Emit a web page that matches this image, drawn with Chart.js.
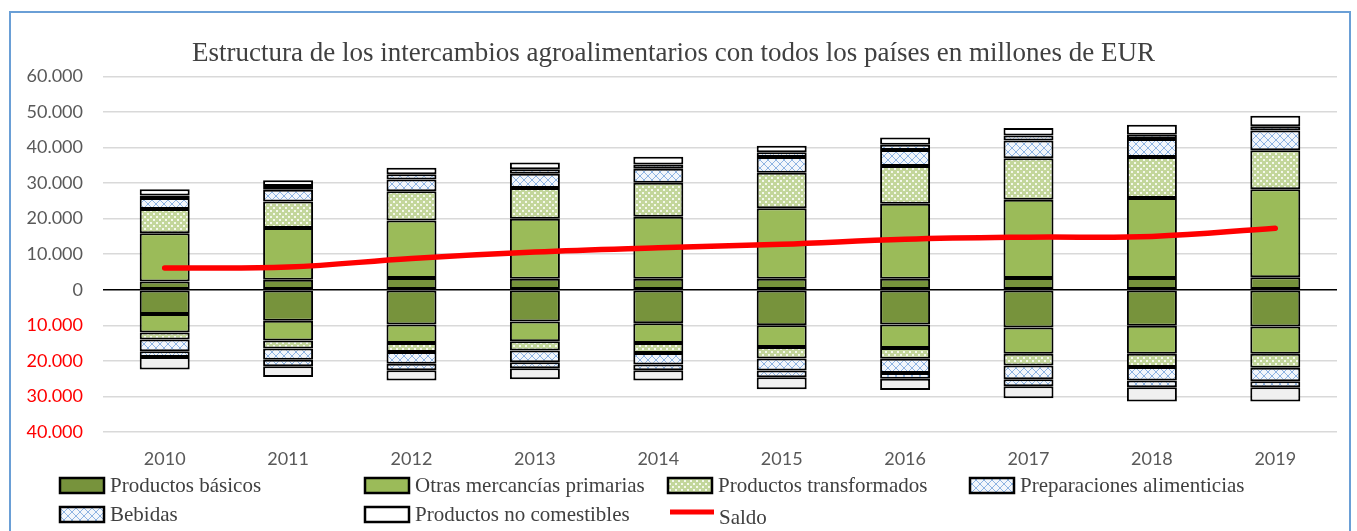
<!DOCTYPE html>
<html><head><meta charset="utf-8">
<script src="https://cdn.jsdelivr.net/npm/chart.js@4"></script>
<style>
html,body{margin:0;padding:0;background:#fff;overflow:hidden}
#wrap{position:relative;width:1357px;height:531px}
#frame{position:absolute;left:9px;top:11px;width:1342px;height:560px;border:2px solid #6a9fd6;box-sizing:border-box;pointer-events:none}
canvas{position:absolute;left:0;top:0}
</style></head><body>
<div id="wrap"><canvas id="c" width="1357" height="531"></canvas><div id="frame"></div></div>
<script>
const years = ['2010','2011','2012','2013','2014','2015','2016','2017','2018','2019'];
const seriesNames = ['Productos básicos','Otras mercancías primarias','Productos transformados','Preparaciones alimenticias','Bebidas','Productos no comestibles'];
const lineName = 'Saldo';
const titleText = 'Estructura de los intercambios agroalimentarios con todos los países en millones de EUR';

// Exportaciones (positive, millones EUR)
const expBasicos        = [2300, 2800, 3300, 3100, 3100, 3100, 3100, 3300, 3300, 3500];
const expOtras          = [13600,14600,16200,16900,17400,19800,21100,22000,22500,24800];
const expTransformados  = [6800, 7400, 8200, 8600, 9600,10000,10600,11700,11500,10900];
const expPreparaciones  = [3100, 3300, 3300, 4000, 3900, 4400, 4500, 5000, 5100, 5600];
const expBebidas        = [700,  1100, 1500, 1300, 1200, 1400, 1500, 1400, 1200, 1200];
const expNoComestibles  = [1800, 1600, 1800, 1900, 2200, 1800, 2000, 2100, 2800, 2900];

// Importaciones (negative, millones EUR)
const impBasicos        = [-6800,-8700,-9800,-8900,-9400,-10000,-9800,-10600,-10100,-10300];
const impOtras          = [-5200,-5600,-5200,-5600,-5600,-6100,-6600,-7400,-7900,-7700];
const impTransformados  = [-2000,-2200,-2500,-2600,-2800,-3200,-3000,-3300,-3700,-3900];
const impPreparaciones  = [-3300,-3200,-3300,-3300,-3200,-3400,-4000,-3900,-3800,-3800];
const impBebidas        = [-1600,-1800,-1800,-1700,-1600,-1900,-1600,-1900,-1900,-1700];
const impNoComestibles  = [-3500,-3000,-2900,-3100,-2900,-3400,-3200,-3400,-4000,-4000];

const saldo = [6100, 6400, 8800, 10600, 11800, 12800, 14200, 14800, 15000, 17300];

const yMin = -40000, yMax = 60000, yStep = 10000;

function dotsPattern(bg, dot){
  const c = document.createElement('canvas'); c.width = 6; c.height = 6;
  const g = c.getContext('2d');
  g.fillStyle = bg; g.fillRect(0,0,6,6);
  g.fillStyle = dot;
  g.fillRect(0,0,2,2); g.fillRect(3,3,2,2);
  return g.createPattern(c,'repeat');
}
function hatchPattern(bg, line){
  const c = document.createElement('canvas'); c.width = 8; c.height = 8;
  const g = c.getContext('2d');
  g.fillStyle = bg; g.fillRect(0,0,8,8);
  g.strokeStyle = line; g.lineWidth = 1;
  g.beginPath(); g.moveTo(0,0); g.lineTo(8,8); g.moveTo(8,0); g.lineTo(0,8); g.stroke();
  return g.createPattern(c,'repeat');
}

const fillBasicos = '#77933c';
const fillOtras = '#9bbb59';
const fillTransf = dotsPattern('#c3d69b', '#f4f8ec');
const fillPrep = hatchPattern('#f2f6fb', '#8db3e2');
const fillBeb = hatchPattern('#f2f6fb', '#8db3e2');
const fillNCexp = '#ffffff';
const fillNCimp = '#f0f0f0';

const expFills = [fillBasicos, fillOtras, fillTransf, fillPrep, fillBeb, fillNCexp];
const impFills = [fillBasicos, fillOtras, fillTransf, fillPrep, fillBeb, fillNCimp];
const expData = [expBasicos, expOtras, expTransformados, expPreparaciones, expBebidas, expNoComestibles];
const impData = [impBasicos, impOtras, impTransformados, impPreparaciones, impBebidas, impNoComestibles];

const datasets = [];
seriesNames.forEach((n,i)=>{
  datasets.push({type:'bar', label:n, data:expData[i], backgroundColor:expFills[i], borderColor:'#000', borderWidth:2, borderSkipped:false, stack:'s', order:2});
});
seriesNames.forEach((n,i)=>{
  datasets.push({type:'bar', label:n+' (imp)', data:impData[i], backgroundColor:impFills[i], borderColor:'#000', borderWidth:2, borderSkipped:false, stack:'s', order:2, hideInLegend:true});
});
datasets.push({type:'line', label:lineName, data:saldo, borderColor:'#ff0000', backgroundColor:'#ff0000', borderWidth:5.5, pointRadius:0, tension:0.4, borderCapStyle:'round', stack:'line', order:0, fill:false});

const legendPlugin = {
  id:'customLegend',
  afterDraw(chart){
    const ctx = chart.ctx;
    const cols = [60, 365, 668, 970];
    const rows = [486, 515];
    ctx.save();
    ctx.font = '21px "Liberation Serif"';
    ctx.textBaseline = 'middle';
    ctx.fillStyle = '#404040';
    const items = chart.data.datasets.filter(d=>!d.hideInLegend);
    items.forEach((d,k)=>{
      const r = k<4?0:1, cIdx = k<4?k:k-4;
      const x = cols[cIdx], y = rows[r];
      if (d.type === 'line'){
        ctx.strokeStyle = d.borderColor; ctx.lineWidth = 5; ctx.lineCap='butt';
        ctx.beginPath(); ctx.moveTo(x+2, y-3); ctx.lineTo(x+46, y-3); ctx.stroke();
        ctx.fillStyle = '#404040';
        ctx.fillText(d.label, x+51, y+3);
      } else {
        ctx.fillStyle = d.backgroundColor;
        ctx.fillRect(x, y-8, 44, 15);
        ctx.strokeStyle = '#000'; ctx.lineWidth = 2.5;
        ctx.strokeRect(x, y-8, 44, 15);
        ctx.fillStyle = '#404040';
        ctx.fillText(d.label, x+50, y);
      }
    });
    ctx.restore();
  }
};

new Chart(document.getElementById('c'), {
  type:'bar',
  data:{labels:years, datasets},
  plugins:[legendPlugin],
  options:{
    responsive:false, animation:false,
    layout:{padding:{left:10, right:20, top:0, bottom:0}},
    plugins:{
      legend:{display:false},
      tooltip:{enabled:false},
      title:{display:true, text:titleText, color:'#404040', font:{family:'Liberation Serif', size:27, weight:'normal'}, padding:{top:38, bottom:6}}
    },
    scales:{
      x:{stacked:true, offset:true, grid:{display:false, drawTicks:false}, border:{display:false},
         ticks:{color:'#595959', font:{family:'Lato', size:18}, padding:16},
         afterFit:(s)=>{ s.height = 99; }},
      y:{stacked:true, min:yMin, max:yMax,
         grid:{color:(c)=>c.tick.value===0?'#000':'#d9d9d9', lineWidth:1.5, drawTicks:false},
         border:{display:false},
         ticks:{stepSize:yStep, padding:20, font:{family:'Lato', size:18},
           color:(c)=>c.tick.value<0?'#ff0000':'#595959',
           callback:(v)=> v===0 ? '0' : (Math.abs(v)/1000) + '.000'},
         afterFit:(s)=>{ s.width = 93; }}
    },
    datasets:{bar:{categoryPercentage:1, barPercentage:0.405}}
  }
});
</script>
</body></html>
